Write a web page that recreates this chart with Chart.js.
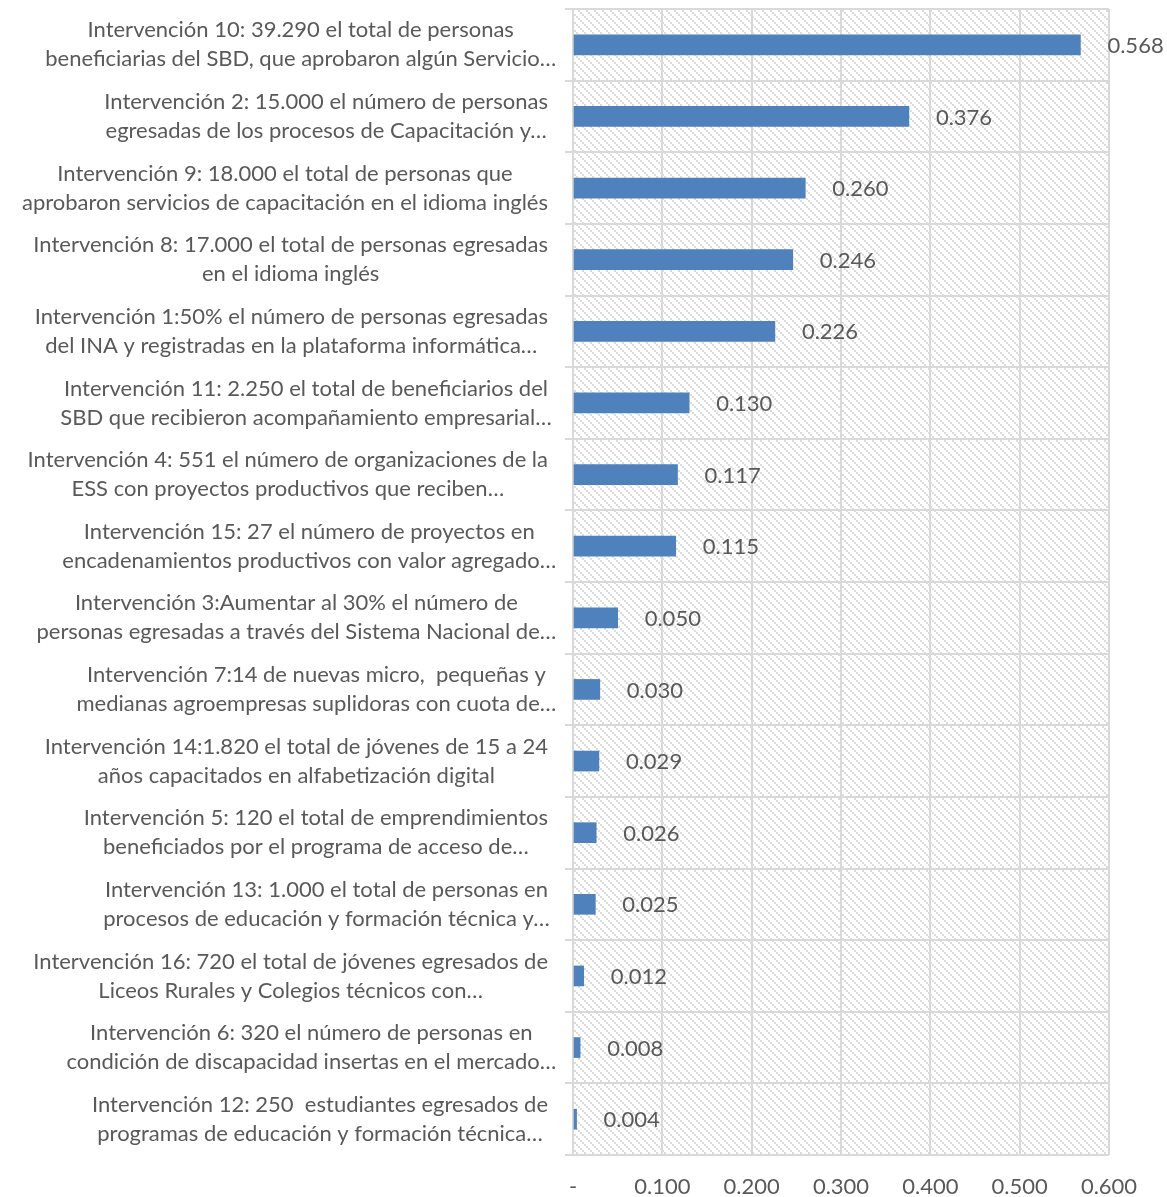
<!DOCTYPE html>
<html>
<head>
<meta charset="utf-8">
<script src="https://cdn.jsdelivr.net/npm/chart.js@4/dist/chart.umd.min.js"></script>
<style>
  html, body { margin: 0; padding: 0; background: #ffffff; }
  #wrap { width: 1167px; height: 1197px; }
</style>
</head>
<body>
<div id="wrap"><canvas id="chart"></canvas></div>
<script>
// Intervention labels (two wrapped lines each), top to bottom
const categories = [
  ["Intervención 10: 39.290 el total de personas", "beneficiarias del SBD, que aprobaron algún Servicio…"],
  ["Intervención 2: 15.000 el número de personas", "egresadas de los procesos de Capacitación y…"],
  ["Intervención 9: 18.000 el total de personas que", "aprobaron servicios de capacitación en el idioma inglés"],
  ["Intervención 8: 17.000 el total de personas egresadas", "en el idioma inglés"],
  ["Intervención 1:50% el número de personas egresadas", "del INA y registradas en la plataforma informática…"],
  ["Intervención 11: 2.250 el total de beneficiarios del", "SBD que recibieron acompañamiento empresarial…"],
  ["Intervención 4: 551 el número de organizaciones de la", "ESS con proyectos productivos que reciben…"],
  ["Intervención 15: 27 el número de proyectos en", "encadenamientos productivos con valor agregado…"],
  ["Intervención 3:Aumentar al 30% el número de", "personas egresadas a través del Sistema Nacional de…"],
  ["Intervención 7:14 de nuevas micro,  pequeñas y", "medianas agroempresas suplidoras con cuota de…"],
  ["Intervención 14:1.820 el total de jóvenes de 15 a 24", "años capacitados en alfabetización digital"],
  ["Intervención 5: 120 el total de emprendimientos", "beneficiados por el programa de acceso de…"],
  ["Intervención 13: 1.000 el total de personas en", "procesos de educación y formación técnica y…"],
  ["Intervención 16: 720 el total de jóvenes egresados de", "Liceos Rurales y Colegios técnicos con…"],
  ["Intervención 6: 320 el número de personas en", "condición de discapacidad insertas en el mercado…"],
  ["Intervención 12: 250  estudiantes egresados de", "programas de educación y formación técnica…"]
];

// Index value per intervention
const values = [0.568, 0.376, 0.260, 0.246, 0.226, 0.130, 0.117, 0.115,
                0.050, 0.030, 0.029, 0.026, 0.025, 0.012, 0.008, 0.004];

// Value axis ticks
const xTicks = [0, 0.1, 0.2, 0.3, 0.4, 0.5, 0.6];
const xTickLabels = ["-", "0.100", "0.200", "0.300", "0.400", "0.500", "0.600"];

const FONT = "Lato";
const TEXT = "#595959";
const GRID = "#d9d9d9";

// Diagonal dotted hatch used as the plot background
function makeHatch(ctx) {
  const t = document.createElement("canvas");
  t.width = 8; t.height = 8;
  const c = t.getContext("2d");
  c.fillStyle = "#ffffff";
  c.fillRect(0, 0, 8, 8);
  c.fillStyle = "#dcdcdc";
  for (let i = 0; i < 8; i += 2) c.fillRect(i, i, 2, 2);
  return ctx.createPattern(t, "repeat");
}

const hatchBackground = {
  id: "hatchBackground",
  beforeDraw(chart) {
    const { ctx, chartArea: a } = chart;
    ctx.save();
    ctx.fillStyle = makeHatch(ctx);
    ctx.fillRect(a.left, a.top, a.right - a.left, a.bottom - a.top);
    ctx.restore();
  }
};

// Category labels: each block centred on its widest line, anchored to the axis
const categoryLabels = {
  id: "categoryLabels",
  afterDraw(chart) {
    const { ctx } = chart;
    const y = chart.scales.y;
    const anchor = chart.chartArea.left - 25;
    ctx.save();
    ctx.font = "22px " + FONT;
    ctx.fillStyle = TEXT;
    ctx.textAlign = "center";
    ctx.textBaseline = "middle";
    categories.forEach((lines, i) => {
      const cy = y.getPixelForTick(i);
      const w = Math.max(...lines.map(l => ctx.measureText(l.replace(/…$/, "")).width));
      const cx = anchor - w / 2;
      const lh = 29;
      lines.forEach((l, k) => {
        ctx.fillText(l, cx, cy + (k - (lines.length - 1) / 2) * lh);
      });
    });
    ctx.restore();
  }
};

// Value labels to the right of each bar
const valueLabels = {
  id: "valueLabels",
  afterDatasetsDraw(chart) {
    const { ctx } = chart;
    const meta = chart.getDatasetMeta(0);
    ctx.save();
    ctx.font = "22px " + FONT;
    ctx.fillStyle = TEXT;
    ctx.textAlign = "left";
    ctx.textBaseline = "middle";
    meta.data.forEach((bar, i) => {
      ctx.fillText(values[i].toFixed(3), bar.x + 27, bar.y + 1);
    });
    ctx.restore();
  }
};

new Chart(document.getElementById("chart"), {
  type: "bar",
  data: {
    labels: categories,
    datasets: [{
      data: values,
      backgroundColor: "#4f81bd",
      borderWidth: 0,
      barThickness: 20
    }]
  },
  options: {
    indexAxis: "y",
    responsive: true,
    maintainAspectRatio: false,
    animation: false,
    layout: { padding: { top: 9, right: 58, left: 0, bottom: 0 } },
    plugins: { legend: { display: false }, tooltip: { enabled: false } },
    scales: {
      x: {
        min: 0, max: 0.6,
        afterBuildTicks(scale) { scale.ticks = xTicks.map(v => ({ value: v })); },
        afterFit(scale) { scale.height = 42; },
        grid: { color: GRID, lineWidth: 2, drawTicks: false },
        border: { display: false },
        ticks: {
          padding: 19,
          color: TEXT,
          font: { family: FONT, size: 22 },
          maxRotation: 0,
          callback: (v, i) => xTickLabels[i]
        }
      },
      y: {
        afterFit(scale) { scale.width = 573; },
        grid: { color: GRID, lineWidth: 2, offset: true, drawTicks: true, tickLength: 8 },
        border: { display: false },
        ticks: { display: false }
      }
    }
  },
  plugins: [hatchBackground, categoryLabels, valueLabels]
});
</script>
</body>
</html>
